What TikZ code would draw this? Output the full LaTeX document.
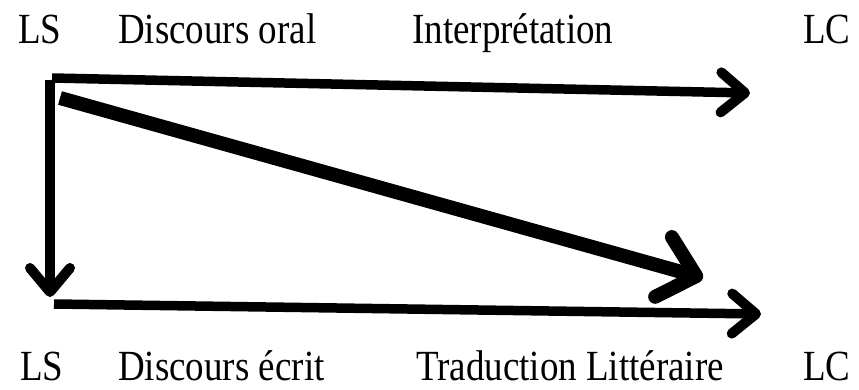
\documentclass[tikz,border=0pt]{standalone}
\usepackage{fontspec}
\setmainfont{Liberation Serif}[FakeStretch=0.86]
\usetikzlibrary{arrows.meta}
\begin{document}
\begin{tikzpicture}[x=1pt,y=1pt,
  lbl/.style={anchor=base west,inner sep=0pt,font=\fontsize{43}{50}\selectfont},
  arr/.style={line width=9.5pt,-{Straight Barb[length=24pt,width=40pt,round,line width=10pt]}},
  bigarr/.style={line width=14pt,-{Straight Barb[length=34pt,width=62pt,round,line width=14pt]}}]
\useasboundingbox (0,0) rectangle (859,389);
\node[lbl] (ls1) at (18,345) {LS};
\node[lbl] (do) at (118,345) {Discours oral};
\node[lbl] (ip) at (412,345) {Interprétation};
\node[lbl] (lc1) at (803,345) {LC};
\node[lbl] (ls2) at (20,9) {LS};
\node[lbl] (de) at (118,9) {Discours écrit};
\node[lbl] (tl) at (416,9) {Traduction Littéraire};
\node[lbl] (lc2) at (803,9) {LC};
\coordinate (a1) at (52,311);
\coordinate (a2) at (750,296);
\coordinate (v1) at (50,309);
\coordinate (v2) at (50,92);
\coordinate (b1) at (54,85);
\coordinate (b2) at (761,75);
\coordinate (d1) at (60,291);
\coordinate (d2) at (703,111);
\draw[arr] (a1) -- (a2);
\draw[arr] (v1) -- (v2);
\draw[arr] (b1) -- (b2);
\draw[bigarr] (d1) -- (d2);
\end{tikzpicture}
\end{document}
